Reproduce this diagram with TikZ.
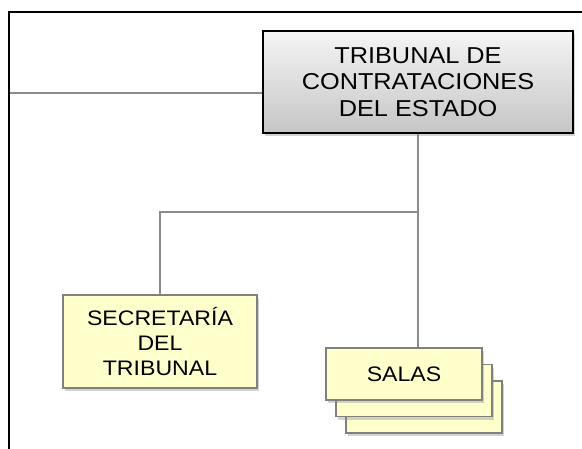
\documentclass[tikz,border=0pt]{standalone}
\usepackage{fontspec}
\setmainfont{Liberation Sans}
\newfontfamily\orgfont[FakeStretch=1.1]{Liberation Sans}
\usetikzlibrary{shadows}
\definecolor{salafill}{HTML}{FFFFCC}
\definecolor{linegray}{HTML}{8C8C8C}
\tikzset{
  orgshadow/.style={drop shadow={opacity=0.35, shadow xshift=2pt, shadow yshift=-3pt}},
  headbox/.style={draw=black, line width=1.4pt, top color=gray!8, bottom color=gray!45,
    orgshadow, minimum width=310, minimum height=102, inner sep=0pt, align=center,
    font=\orgfont\fontsize{23}{26.5}\selectfont},
  unitbox/.style={draw=gray, line width=1.1pt, fill=salafill, orgshadow,
    inner sep=0pt, align=center, font=\orgfont\fontsize{21}{25}\selectfont},
  link/.style={draw=linegray, line width=1.2pt}
}

\begin{document}
\begin{tikzpicture}[x=1pt, y=-1pt]

    % Picture size
    \useasboundingbox (0,0) rectangle (582,448);
    \clip (0,0) rectangle (582,448);

    % Outer frame (runs past the right and bottom edges)
    \draw[line width=2pt] (9,12) rectangle (620,480);

    % Main box
    \node[headbox] (tribunal) at (418,82) {TRIBUNAL DE\\CONTRATACIONES\\DEL ESTADO};

    % Secretaria
    \node[unitbox, minimum width=194, minimum height=93] (secretaria) at (160,341.5)
        {SECRETAR\'IA\\DEL\\TRIBUNAL};

    % Salas, stacked from the back to the front
    \def\salax{404}
    \def\salay{374}
    \foreach \k in {2,1} {
        \node[unitbox, minimum width=156, minimum height=52] (sala\k)
            at (\salax+10*\k, \salay+16.5*\k) {};
    }
    \node[unitbox, minimum width=156, minimum height=52] (sala0) at (\salax,\salay) {SALAS};

    % Connectors
    \coordinate (frameleft) at (10,93);
    \coordinate (fork) at (tribunal.south |- 0,212);
    \draw[link] (frameleft) -- (frameleft -| tribunal.west);
    \draw[link] (tribunal.south) -- (sala0.north -| tribunal.south);
    \draw[link] (fork) -| (secretaria.north);

\end{tikzpicture}
\end{document}
